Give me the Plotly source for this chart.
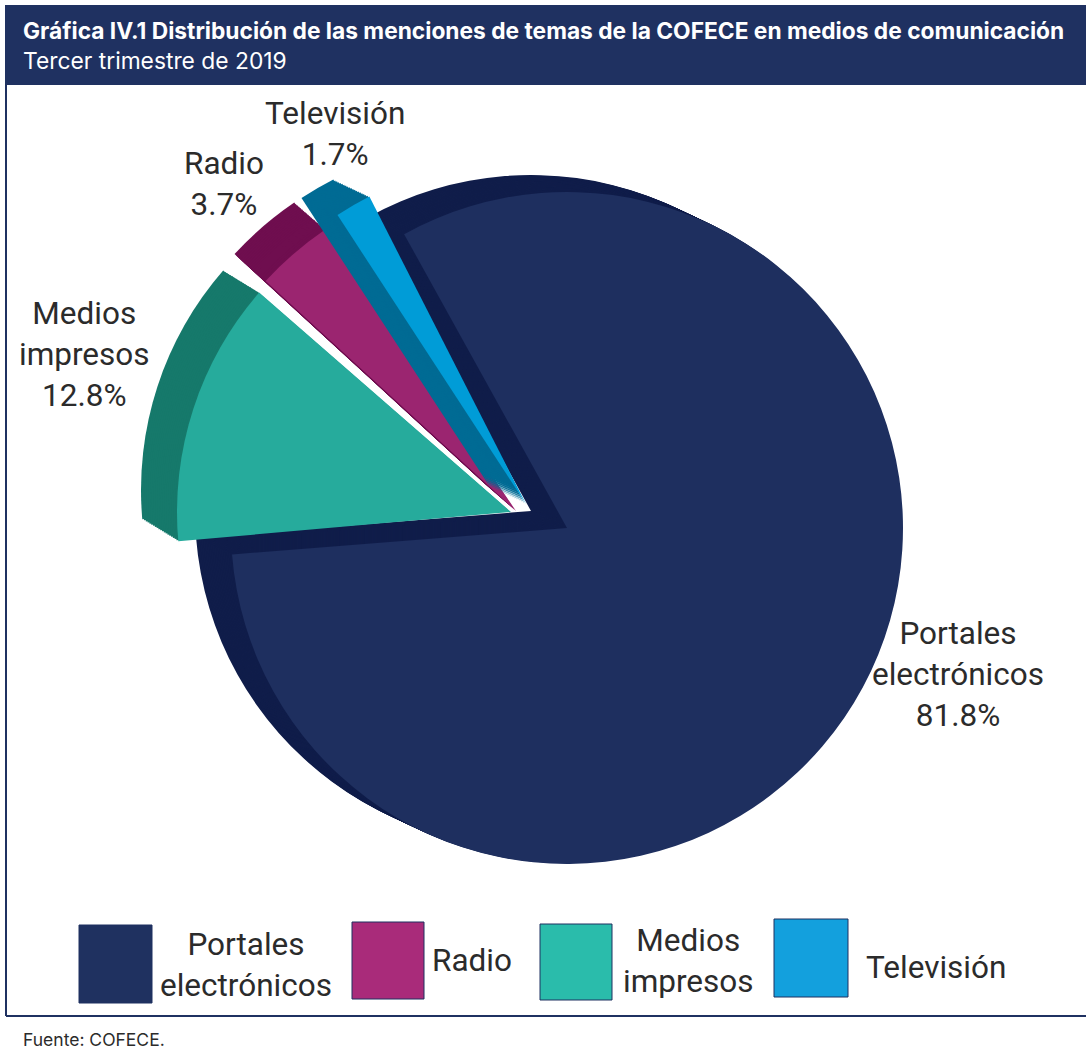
import numpy as np
import plotly.graph_objects as go

categories = ["Portales electrónicos", "Medios impresos", "Radio", "Televisión"]
values = [81.8, 12.8, 3.7, 1.7]
label_lines = ["Portales<br>electrónicos", "Medios<br>impresos", "Radio", "Televisión"]

W, H = 1086, 1055
NAVY = "#1f3161"
top_colors = ["#1e2f5f", "#26ab9c", "#9b2570", "#009cd7"]
wall_colors = ["#101d4a", "#16796b", "#6f0e4f", "#006b94"]
legend_colors = ["#1f3160", "#2abcab", "#a92b7a", "#13a0dd"]
TRANSPARENT = "rgba(0,0,0,0)"
FONT = "Roboto"
HEAD_FONT = "Inter"
TEXT = "#2b2b2b"

# px geometry of each exploded slice: centre, radius, extrusion offset, rotation
centres = [(567, 528), (511, 512), (516, 511), (526, 504)]
radii = [336, 334, 340, 345]
offsets = [(-36, -17), (-36, -22), (-31, -27), (-36, -17)]
rotations = [331, 330.5, 332, 333]
LAYERS = 20


def px(x):
    return x / W


def py(y):
    return 1 - y / H


fig = go.Figure()


def slice_trace(i, cx, cy, r, color):
    colors = [TRANSPARENT] * len(values)
    colors[i] = color
    return go.Pie(
        labels=categories, values=values, sort=False, direction="clockwise",
        rotation=rotations[i], textinfo="none", hoverinfo="skip", showlegend=False,
        marker=dict(colors=colors, line=dict(width=0)),
        domain=dict(x=[px(cx - r), px(cx + r)], y=[py(cy + r), py(cy - r)]),
    )


for i in range(len(values)):
    (cx, cy), r, (ox, oy) = centres[i], radii[i], offsets[i]
    for t in np.linspace(1, 1 / LAYERS, LAYERS):
        fig.add_trace(slice_trace(i, cx + ox * t, cy + oy * t, r, wall_colors[i]))
    fig.add_trace(slice_trace(i, cx, cy, r, top_colors[i]))

shapes = [
    dict(type="rect", xref="paper", yref="paper", x0=px(5), x1=px(1086), y0=py(85), y1=py(5),
         fillcolor=NAVY, line=dict(width=0), layer="below"),
    dict(type="line", xref="paper", yref="paper", x0=px(6), x1=px(6), y0=py(85), y1=py(1016),
         line=dict(color=NAVY, width=2)),
    dict(type="line", xref="paper", yref="paper", x0=px(6), x1=px(1086), y0=py(1016), y1=py(1016),
         line=dict(color=NAVY, width=2)),
]

legend_boxes = [(79, 925, 152, 1003), (540, 924, 612, 1000), (352, 922, 424, 999), (774, 919, 848, 997)]
for (x0, y0, x1, y1), c in zip(legend_boxes, legend_colors):
    shapes.append(dict(type="rect", xref="paper", yref="paper", x0=px(x0), x1=px(x1), y0=py(y1), y1=py(y0),
                       fillcolor=c, line=dict(color=NAVY, width=1)))


def note(x, y, text, size=31.5, color=TEXT, anchor="center", family=FONT):
    return dict(xref="paper", yref="paper", x=px(x), y=py(y), text=text, showarrow=False,
                xanchor=anchor, yanchor="middle", align="center" if anchor == "center" else "left",
                font=dict(family=family, size=size, color=color))


value_labels = [f"{l}<br>{v}%" for l, v in zip(label_lines, values)]
label_pos = [(958, 675), (84, 354), (224, 184), (335, 134)]
legend_pos = [(246, 965), (688, 961), (472, 960), (936, 967)]

annotations = [
    note(21, 31, "<b>Gráfica IV.1 Distribución de las menciones de temas de la COFECE en medios de comunicación</b>",
         size=22.75, color="white", anchor="left", family=HEAD_FONT),
    note(21, 60, "Tercer trimestre de 2019", size=22.8, color="white", anchor="left", family=HEAD_FONT),
    note(21, 1039, "Fuente: COFECE.", size=17.5, anchor="left", family=HEAD_FONT),
]
annotations += [note(x, y, t) for (x, y), t in zip(label_pos, value_labels)]
annotations += [note(x, y, t) for (x, y), t in zip(legend_pos, label_lines)]

fig.update_layout(
    width=W, height=H, margin=dict(l=0, r=0, t=0, b=0, pad=0),
    paper_bgcolor="white", plot_bgcolor="white", showlegend=False,
    shapes=shapes, annotations=annotations,
)
fig.write_html("out.html", config={"displayModeBar": False},
               post_script="document.body.style.margin='0';")
